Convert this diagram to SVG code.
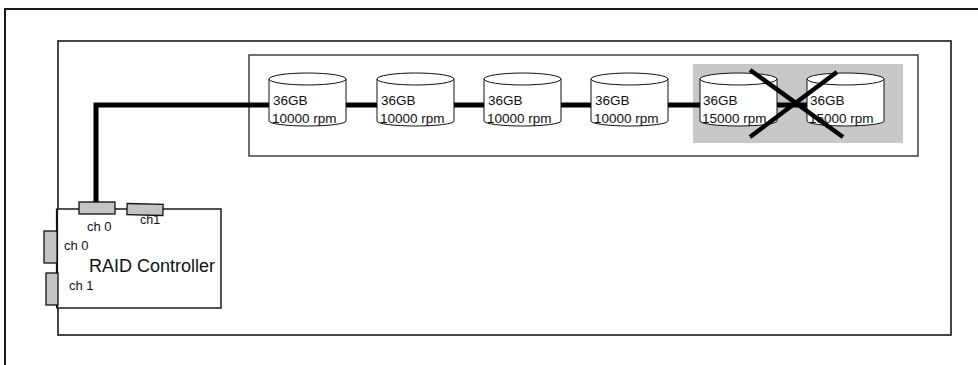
<svg xmlns="http://www.w3.org/2000/svg" width="978" height="365" viewBox="0 0 978 365">
<defs>
<style>
text{font-family:"Liberation Sans",Arial,sans-serif;fill:#111}
.frame{fill:none;stroke:#1a1a1a;stroke-width:2}
.box{fill:#fff;stroke:#1a1a1a;stroke-width:1.6}
.inner{fill:#fff;stroke:#222;stroke-width:1.3}
.cyl{fill:#fff;stroke:#111;stroke-width:1}
.port{fill:#c4c4c4;stroke:#111;stroke-width:1.3}
.bus{fill:none;stroke:#000;stroke-width:5}
.x{stroke:#000;stroke-width:4.5}
.d{font-size:13.5px}
.ch{font-size:13px}
</style>
<g id="disk">
<path class="cyl" d="M0,79 L0,121 A38.5,5 0 0 0 77,121 L77,79 Z"/>
<ellipse class="cyl" cx="38.5" cy="79" rx="38.5" ry="6"/>
</g>
</defs>
<g id="enclosure">
<path class="frame" d="M5,365 L5,9 L978,9"/>
</g>
<g id="cabinet">
<rect class="box" x="58" y="41" width="893" height="294"/>
</g>
<g id="disk-array">
<rect class="inner" x="249" y="55" width="669" height="101"/>
<rect x="693" y="64" width="210" height="79" fill="#c8c8c8"/>
</g>
<g id="connectors">
<path class="bus" d="M96,203 L96,105 L846,105"/>
</g>
<g id="disk1"><use href="#disk" x="269"/><text class="d" x="273" y="105">36GB</text><text class="d" x="272" y="123">10000 rpm</text></g>
<g id="disk2"><use href="#disk" x="377"/><text class="d" x="381" y="105">36GB</text><text class="d" x="380" y="123">10000 rpm</text></g>
<g id="disk3"><use href="#disk" x="484"/><text class="d" x="488" y="105">36GB</text><text class="d" x="487" y="123">10000 rpm</text></g>
<g id="disk4"><use href="#disk" x="591"/><text class="d" x="595" y="105">36GB</text><text class="d" x="594" y="123">10000 rpm</text></g>
<g id="disk5"><use href="#disk" x="700"/><text class="d" x="703" y="105">36GB</text><text class="d" x="702" y="123">15000 rpm</text></g>
<g id="disk6"><use href="#disk" x="807"/><text class="d" x="810" y="105">36GB</text><text class="d" x="809" y="123">15000 rpm</text></g>
<g id="cross">
<line class="x" x1="750" y1="70" x2="843" y2="137"/>
<line class="x" x1="837" y1="72" x2="750" y2="137"/>
</g>
<g id="raid-controller">
<rect x="57" y="209" width="164" height="99" fill="#fff" stroke="#1a1a1a" stroke-width="1.5"/>
<line x1="57" y1="209" x2="57" y2="308" stroke="#111" stroke-width="2.2"/>
<rect class="port" x="79" y="202" width="36" height="12"/>
<rect class="port" x="127" y="204" width="36" height="11" transform="rotate(1.5 145 209)"/>
<rect class="port" x="44" y="231" width="13" height="32"/>
<rect class="port" x="46" y="273" width="12" height="32"/>
<text class="ch" x="87" y="231">ch 0</text>
<text x="140" y="224" font-size="12.5px">ch1</text>
<text class="ch" x="64" y="250">ch 0</text>
<text x="89" y="272" font-size="18px">RAID Controller</text>
<text class="ch" x="69" y="290">ch 1</text>
</g>
</svg>
